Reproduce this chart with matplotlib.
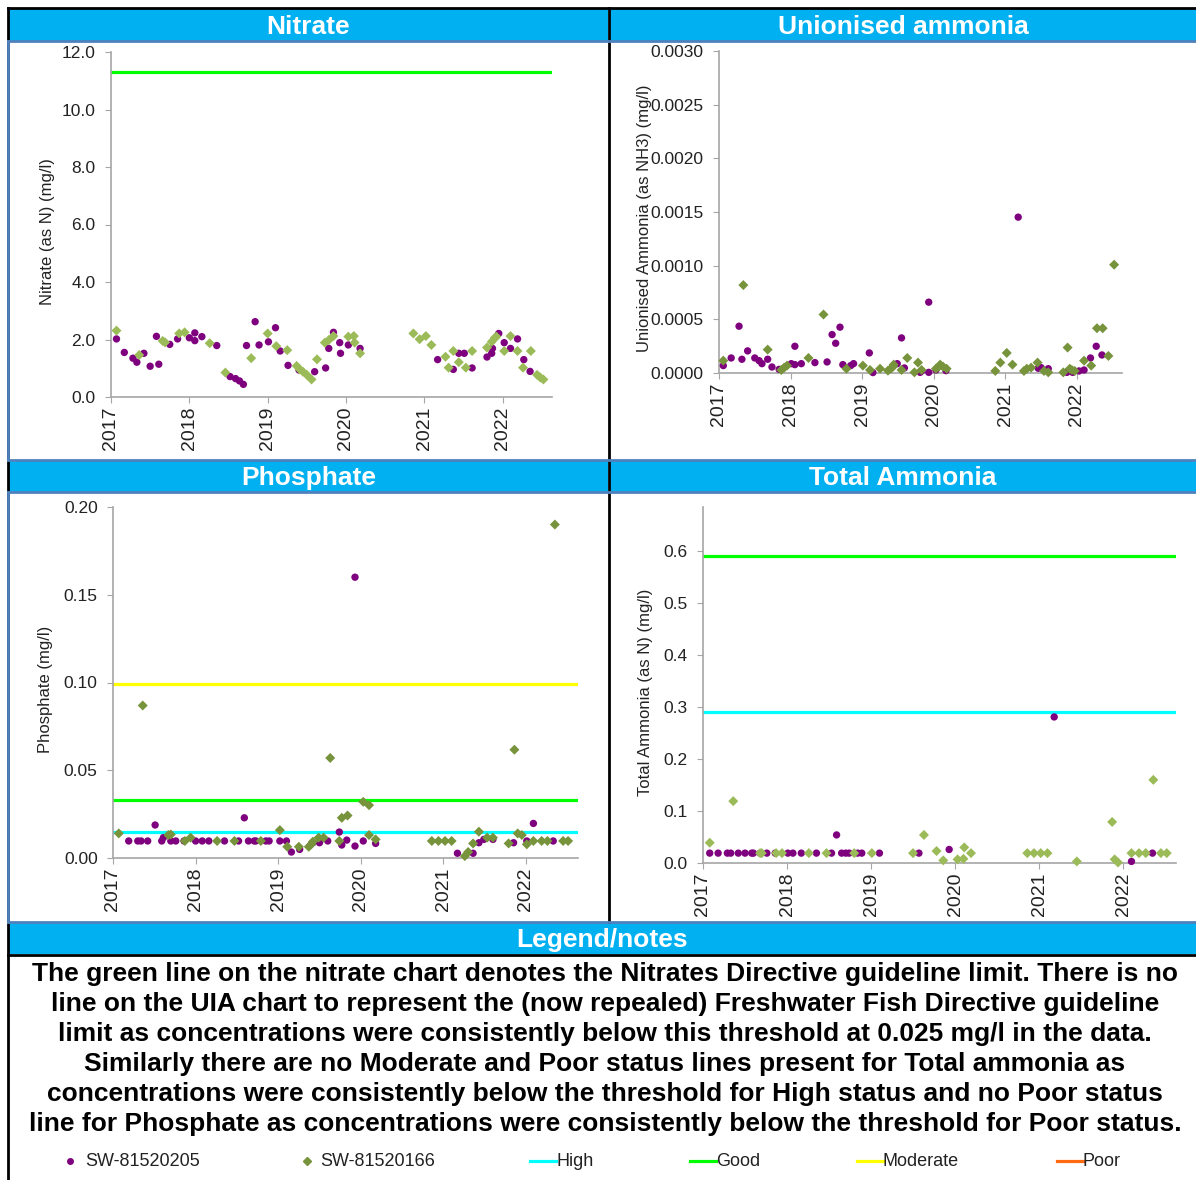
import matplotlib
matplotlib.use("Agg")
import matplotlib.pyplot as plt
from matplotlib.lines import Line2D
from matplotlib.patches import Rectangle
from matplotlib.ticker import FormatStrFormatter

plt.rcParams['font.family'] = ['Liberation Sans', 'DejaVu Sans']

# sample dates as decimal years
# --- Nitrate (as N) mg/l ---
nit_205_x = [2017.07, 2017.17, 2017.28, 2017.33, 2017.42, 2017.50, 2017.58, 2017.61, 2017.75, 2017.85,
             2018.00, 2018.07, 2018.07, 2018.16, 2018.35, 2018.52, 2018.59, 2018.64, 2018.69, 2018.73,
             2018.84, 2018.89, 2019.01, 2019.10, 2019.16, 2019.26, 2019.40, 2019.60, 2019.74, 2019.78,
             2019.84, 2019.92, 2019.93, 2020.03, 2020.18, 2021.17, 2021.37, 2021.44, 2021.51, 2021.61,
             2021.80, 2021.86, 2021.87, 2021.95, 2022.02, 2022.10, 2022.19, 2022.27, 2022.35]
nit_205_y = [2.02, 1.55, 1.35, 1.21, 1.52, 1.07, 2.11, 1.14, 1.83, 2.02,
             2.06, 2.23, 1.96, 2.10, 1.79, 0.71, 0.64, 0.56, 0.44, 1.79,
             2.62, 1.81, 1.92, 2.41, 1.60, 1.10, 0.94, 0.88, 1.01, 1.69,
             2.25, 1.89, 1.52, 1.81, 1.69, 1.30, 0.96, 1.52, 1.52, 1.01,
             1.39, 1.52, 1.69, 2.21, 1.89, 1.69, 2.02, 1.30, 0.89]
nit_166_x = [2017.07, 2017.36, 2017.66, 2017.69, 2017.87, 2017.94, 2018.26, 2018.46, 2018.79, 2019.00,
             2019.11, 2019.25, 2019.37, 2019.41, 2019.45, 2019.50, 2019.56, 2019.63, 2019.73, 2019.78,
             2019.84, 2020.03, 2020.10, 2020.11, 2020.18, 2020.86, 2020.94, 2021.02, 2021.09, 2021.27,
             2021.31, 2021.37, 2021.44, 2021.53, 2021.61, 2021.80, 2021.86, 2021.90, 2021.92, 2022.02,
             2022.10, 2022.19, 2022.26, 2022.36, 2022.44, 2022.48, 2022.52]
nit_166_y = [2.31, 1.46, 1.95, 1.90, 2.21, 2.25, 1.87, 0.85, 1.35, 2.21,
             1.77, 1.63, 1.08, 0.96, 0.88, 0.77, 0.61, 1.31, 1.89, 1.98,
             2.12, 2.10, 2.12, 1.89, 1.52, 2.21, 2.01, 2.12, 1.81, 1.40,
             1.02, 1.60, 1.21, 1.02, 1.60, 1.72, 1.92, 2.06, 2.10, 1.60,
             2.12, 1.60, 1.02, 1.60, 0.77, 0.68, 0.61]
nit_limit = 11.3

# --- Unionised ammonia (as NH3) mg/l ---
uia_205_x = [2017.06, 2017.17, 2017.28, 2017.32, 2017.40, 2017.50, 2017.56, 2017.60, 2017.68, 2017.74,
             2017.84, 2018.01, 2018.06, 2018.06, 2018.15, 2018.34, 2018.51, 2018.58, 2018.63, 2018.69,
             2018.73, 2018.84, 2018.88, 2019.10, 2019.15, 2019.49, 2019.55, 2019.59, 2019.81, 2019.83,
             2019.93, 2019.93, 2020.03, 2020.17, 2021.18, 2021.46, 2021.50, 2021.60, 2021.86, 2021.94,
             2022.03, 2022.10, 2022.19, 2022.27, 2022.35]
uia_205_y = [0.000069, 0.000140, 0.000436, 0.000128, 0.000206, 0.000140, 0.000115, 0.000087, 0.000128, 0.000056,
             0.000034, 0.000087, 0.000078, 0.000249, 0.000087, 0.000097, 0.000103, 0.000358, 0.000277, 0.000427,
             0.000078, 0.000069, 0.000087, 0.000187, 0.000004, 0.000087, 0.000327, 0.000047, 0.000006, 0.000019,
             0.000660, 0.000006, 0.000028, 0.000022, 0.001452, 0.000044, 0.000050, 0.000040, 0.000006, 0.000006,
             0.000019, 0.000028, 0.000140, 0.000249, 0.000168]
uia_166_x = [2017.06, 2017.34, 2017.68, 2017.87, 2017.91, 2017.95, 2018.25, 2018.46, 2018.78, 2019.01,
             2019.11, 2019.25, 2019.36, 2019.40, 2019.43, 2019.44, 2019.55, 2019.63, 2019.73, 2019.78,
             2019.83, 2020.03, 2020.07, 2020.09, 2020.13, 2020.18, 2020.86, 2020.93, 2021.02, 2021.10,
             2021.26, 2021.30, 2021.36, 2021.45, 2021.54, 2021.60, 2021.81, 2021.87, 2021.90, 2021.93,
             2021.97, 2022.10, 2022.20, 2022.28, 2022.36, 2022.44, 2022.52]
uia_166_y = [0.000115, 0.000819, 0.000218, 0.000028, 0.000050, 0.000069, 0.000140, 0.000545, 0.000040, 0.000069,
             0.000028, 0.000040, 0.000022, 0.000040, 0.000059, 0.000078, 0.000028, 0.000140, 0.000006, 0.000097,
             0.000028, 0.000040, 0.000059, 0.000078, 0.000059, 0.000040, 0.000019, 0.000097, 0.000187, 0.000078,
             0.000019, 0.000040, 0.000050, 0.000097, 0.000019, 0.000006, 0.000006, 0.000237, 0.000040, 0.000028,
             0.000019, 0.000115, 0.000069, 0.000417, 0.000417, 0.000159, 0.001009]

# --- Phosphate mg/l ---
pho_205_x = [2017.19, 2017.30, 2017.34, 2017.42, 2017.51, 2017.59, 2017.61, 2017.70, 2017.76, 2017.86,
             2018.00, 2018.08, 2018.16, 2018.35, 2018.52, 2018.59, 2018.64, 2018.71, 2018.73, 2018.85,
             2018.89, 2019.02, 2019.10, 2019.16, 2019.26, 2019.42, 2019.50, 2019.60, 2019.74, 2019.77,
             2019.83, 2019.93, 2019.93, 2020.03, 2020.18, 2021.17, 2021.36, 2021.43, 2021.49, 2021.60,
             2021.85, 2022.01, 2022.09, 2022.33]
pho_205_y = [0.0097, 0.0097, 0.0097, 0.0097, 0.0188, 0.0097, 0.0116, 0.0097, 0.0097, 0.0097,
             0.0097, 0.0097, 0.0097, 0.0097, 0.0097, 0.0229, 0.0097, 0.0097, 0.0097, 0.0097,
             0.0097, 0.0097, 0.0097, 0.0034, 0.0049, 0.0087, 0.0087, 0.0097, 0.0148, 0.0074,
             0.0102, 0.0068, 0.1600, 0.0097, 0.0083, 0.0027, 0.0027, 0.0087, 0.0106, 0.0106,
             0.0087, 0.0097, 0.0197, 0.0097]
pho_166_x = [2017.07, 2017.36, 2017.67, 2017.70, 2017.87, 2017.94, 2018.26, 2018.47, 2018.79, 2019.02,
             2019.11, 2019.25, 2019.37, 2019.40, 2019.42, 2019.49, 2019.55, 2019.63, 2019.74, 2019.77,
             2019.84, 2020.03, 2020.10, 2020.10, 2020.18, 2020.86, 2020.94, 2021.02, 2021.10, 2021.26,
             2021.30, 2021.36, 2021.43, 2021.53, 2021.60, 2021.79, 2021.86, 2021.90, 2021.95, 2022.01,
             2022.09, 2022.19, 2022.26, 2022.35, 2022.45, 2022.51]
pho_166_y = [0.0140, 0.0869, 0.0131, 0.0134, 0.0097, 0.0116, 0.0097, 0.0097, 0.0097, 0.0159,
             0.0064, 0.0064, 0.0064, 0.0078, 0.0093, 0.0116, 0.0116, 0.0570, 0.0097, 0.0229,
             0.0242, 0.0320, 0.0301, 0.0131, 0.0106, 0.0097, 0.0097, 0.0097, 0.0097, 0.0011,
             0.0034, 0.0083, 0.0150, 0.0116, 0.0116, 0.0083, 0.0617, 0.0140, 0.0131, 0.0078,
             0.0097, 0.0097, 0.0097, 0.1900, 0.0097, 0.0097]
pho_high = 0.015
pho_good = 0.033
pho_moderate = 0.099

# --- Total ammonia (as N) mg/l ---
tam_205_x = [2017.08, 2017.18, 2017.29, 2017.33, 2017.42, 2017.50, 2017.58, 2017.60, 2017.68, 2017.76,
             2017.86, 2018.01, 2018.07, 2018.17, 2018.35, 2018.53, 2018.59, 2018.65, 2018.70, 2018.74,
             2018.84, 2018.89, 2019.10, 2019.57, 2019.93, 2021.18, 2022.10, 2022.35]
tam_205_y = [0.019, 0.019, 0.019, 0.019, 0.019, 0.019, 0.019, 0.019, 0.019, 0.019,
             0.019, 0.019, 0.019, 0.019, 0.019, 0.019, 0.054, 0.019, 0.019, 0.019,
             0.019, 0.019, 0.019, 0.019, 0.026, 0.281, 0.003, 0.019]
tam_166_x = [2017.08, 2017.36, 2017.68, 2017.70, 2017.87, 2017.94, 2018.26, 2018.47, 2018.80, 2019.01,
             2019.50, 2019.63, 2019.78, 2019.86, 2020.03, 2020.10, 2020.11, 2020.19, 2020.86, 2020.94,
             2021.02, 2021.10, 2021.45, 2021.87, 2021.90, 2021.94, 2022.10, 2022.19, 2022.27, 2022.36,
             2022.45, 2022.52]
tam_166_y = [0.039, 0.119, 0.019, 0.019, 0.019, 0.019, 0.019, 0.019, 0.019, 0.019,
             0.019, 0.054, 0.023, 0.005, 0.007, 0.008, 0.030, 0.019, 0.019, 0.019,
             0.019, 0.019, 0.003, 0.079, 0.007, 0.001, 0.019, 0.019, 0.019, 0.160,
             0.019, 0.019]
tam_high = 0.29
tam_good = 0.59

years = [2017, 2018, 2019, 2020, 2021, 2022]

notes = ("The green line on the nitrate chart denotes the Nitrates Directive guideline limit. There is no\n"
         "line on the UIA chart to represent the (now repealed) Freshwater Fish Directive guideline\n"
         "limit as concentrations were consistently below this threshold at 0.025 mg/l in the data.\n"
         "Similarly there are no Moderate and Poor status lines present for Total ammonia as\n"
         "concentrations were consistently below the threshold for High status and no Poor status\n"
         "line for Phosphate as concentrations were consistently below the threshold for Poor status.")

PURPLE = '#7F007F'
DARK_GREEN = '#77933C'
LIGHT_GREEN = '#9BBB59'
HEADER = '#00B0F0'
FRAME = '#4F81BD'
C_HIGH = '#00FFFF'
C_GOOD = '#00FF00'
C_MOD = '#FFFF00'
C_POOR = '#FF6A13'
AXIS_GREY = '#A6A6A6'

W, H = 1196, 1180
fig = plt.figure(figsize=(W / 100, H / 100), dpi=100)


def box(x0, y0, x1, y1):
    return [x0 / W, 1 - y1 / H, (x1 - x0) / W, (y1 - y0) / H]


def fline(xs, ys, color, lw):
    fig.add_artist(Line2D([x / W for x in xs], [1 - y / H for y in ys],
                          color=color, lw=lw, transform=fig.transFigure))


def header(x0, x1, y0, y1, title):
    fig.add_artist(Rectangle((x0 / W, 1 - y1 / H), (x1 - x0) / W, (y1 - y0) / H,
                             facecolor=HEADER, edgecolor='none', transform=fig.transFigure))
    fig.text((x0 + x1) / 2 / W, 1 - ((y0 + y1) / 2 + 1.5) / H, title, color='white',
             fontsize=19, fontweight='bold', ha='center', va='center')


def style_axes(ax, ylim, yticks, fmt, ylabel, label_x):
    for side in ('top', 'right'):
        ax.spines[side].set_visible(False)
    for side in ('left', 'bottom'):
        ax.spines[side].set_color(AXIS_GREY)
        ax.spines[side].set_linewidth(1.2)
    ax.set_xlim(2017, 2022.63)
    ax.set_ylim(*ylim)
    ax.set_xticks(years)
    ax.set_xticklabels([str(y) for y in years], rotation=90, fontsize=14)
    ax.set_yticks(yticks)
    ax.yaxis.set_major_formatter(FormatStrFormatter(fmt))
    ax.tick_params(axis='y', labelsize=12.5, length=4, color=AXIS_GREY, labelcolor='#222222', pad=7)
    ax.tick_params(axis='x', length=4, color=AXIS_GREY, labelcolor='#222222', pad=3)
    ax.set_ylabel(ylabel, fontsize=12, color='#222222')
    ax.yaxis.set_label_coords(label_x, 0.48)
    ax.set_facecolor('none')


def guide(ax, value, color):
    ax.axhline(value, color=color, lw=2.3, zorder=2)


def points(ax, x205, y205, x166, y166, green):
    ax.scatter(x205, y205, s=28, marker='o', color=PURPLE, edgecolors='none', zorder=3, clip_on=False)
    ax.scatter(x166, y166, s=26, marker='D', color=green, edgecolors='none', zorder=4, clip_on=False)


# panel frames and header bars
fline([8, 8], [8, 1180], 'black', 2)
fline([8, 1196], [8, 8], 'black', 2)
fline([609, 609], [8, 922], 'black', 2)
fline([8, 1196], [955, 955], 'black', 2)
header(9, 608, 9, 41, 'Nitrate')
header(610, 1196, 9, 41, 'Unionised ammonia')
header(9, 608, 461, 492, 'Phosphate')
header(610, 1196, 461, 492, 'Total Ammonia')
header(9, 1196, 923, 954, 'Legend/notes')
for y in (41, 460, 492, 922):
    fline([8, 1196], [y, y], FRAME, 2)
fline([8, 8], [41, 460], FRAME, 2)
fline([8, 8], [492, 922], FRAME, 2)

# Nitrate
ax1 = fig.add_axes(box(111, 52, 552, 397))
style_axes(ax1, (0, 12), [0, 2, 4, 6, 8, 10, 12], '%.1f', 'Nitrate (as N) (mg/l)', -0.128)
guide(ax1, nit_limit, C_GOOD)
points(ax1, nit_205_x, nit_205_y, nit_166_x, nit_166_y, LIGHT_GREEN)

# Unionised ammonia
ax2 = fig.add_axes(box(719, 51, 1122, 373))
style_axes(ax2, (0, 0.003), [0, 0.0005, 0.001, 0.0015, 0.002, 0.0025, 0.003], '%.4f',
           'Unionised Ammonia (as NH3) (mg/l)', -0.166)
points(ax2, uia_205_x, uia_205_y, uia_166_x, uia_166_y, DARK_GREEN)

# Phosphate
ax3 = fig.add_axes(box(113, 507, 578, 858))
style_axes(ax3, (0, 0.2), [0, 0.05, 0.1, 0.15, 0.2], '%.2f', 'Phosphate (mg/l)', -0.13)
guide(ax3, pho_moderate, C_MOD)
guide(ax3, pho_good, C_GOOD)
guide(ax3, pho_high, C_HIGH)
points(ax3, pho_205_x, pho_205_y, pho_166_x, pho_166_y, DARK_GREEN)

# Total ammonia
ax4 = fig.add_axes(box(703, 507, 1176, 863))
style_axes(ax4, (0, 0.685), [0, 0.1, 0.2, 0.3, 0.4, 0.5, 0.6], '%.1f',
           'Total Ammonia (as N) (mg/l)', -0.106)
guide(ax4, tam_good, C_GOOD)
guide(ax4, tam_high, C_HIGH)
points(ax4, tam_205_x, tam_205_y, tam_166_x, tam_166_y, LIGHT_GREEN)

# notes
fig.text(605 / W, 1 - 1049 / H, notes, fontsize=19, fontweight='bold', ha='center', va='center',
         multialignment='center', linespacing=1.32, color='black')

# legend row
ly = 1 - 1161 / H
fig.add_artist(Line2D([70 / W], [ly], marker='o', ms=4, color=PURPLE, lw=0, transform=fig.transFigure))
fig.text(85 / W, ly, 'SW-81520205', fontsize=13, va='center', color='#222222')
fig.add_artist(Line2D([307 / W], [ly], marker='D', ms=4, color=DARK_GREEN, lw=0, transform=fig.transFigure))
fig.text(320 / W, ly, 'SW-81520166', fontsize=13, va='center', color='#222222')
for x0, col, lab in ((530, C_HIGH, 'High'), (690, C_GOOD, 'Good'),
                     (857, C_MOD, 'Moderate'), (1057, C_POOR, 'Poor')):
    fline([x0, x0 + 26], [1161, 1161], col, 2.3)
    fig.text((x0 + 26) / W, ly, lab, fontsize=13, va='center', color='#222222')

fig.savefig('out.png', dpi=100, facecolor='white')
